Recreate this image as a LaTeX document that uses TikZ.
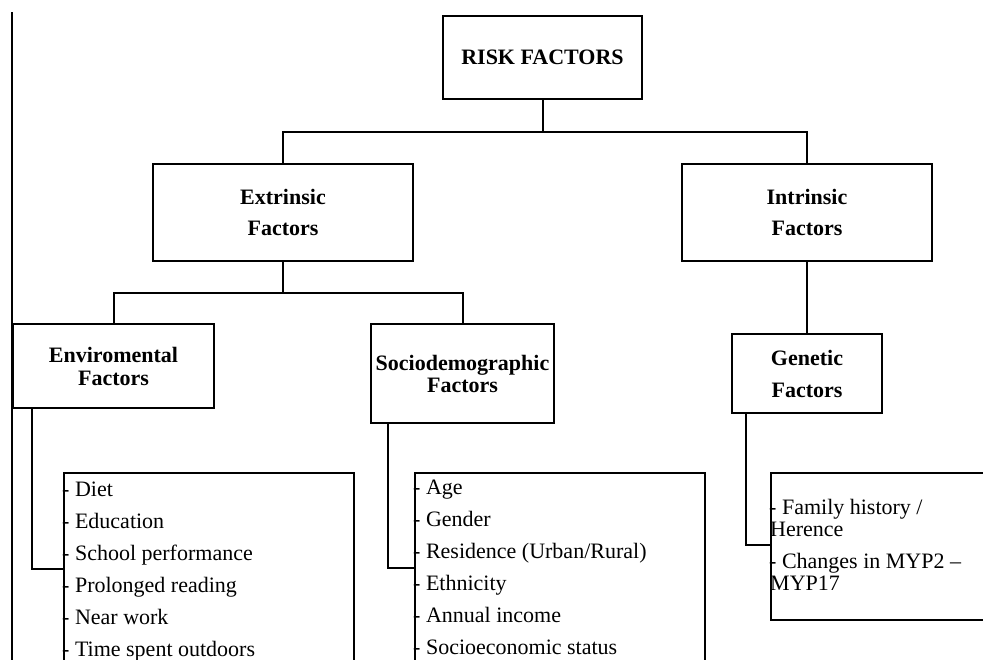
\documentclass[tikz,border=0pt]{standalone}
\usepackage{fontspec}
\setmainfont{Liberation Serif}
\begin{document}
\begin{tikzpicture}[x=1pt,y=-1pt,
  box/.style={draw,line width=2pt,inner sep=0pt,align=center},
  lbl/.style={font=\bfseries\fontsize{22pt}{#1}\selectfont},
  listbox/.style={draw,line width=2pt,anchor=north west,inner sep=0pt},
  item/.style={anchor=base west,inner sep=0pt,font=\fontsize{22pt}{22pt}\selectfont},
  conn/.style={line width=2pt}]
\useasboundingbox (0,0) rectangle (983,659);
\clip (0,0) rectangle (983,659);

% left margin rule
\coordinate (lt) at (12,12);
\coordinate (lb) at (12,665);
\draw[line width=1.3pt] (lt) -- (lb);

% main boxes
\node[box,lbl=31pt,minimum width=199pt,minimum height=83pt] (risk) at (542.5,57.5) {RISK FACTORS};
\node[box,lbl=31pt,minimum width=260pt,minimum height=97pt] (ext) at (283,212.5) {Extrinsic\\Factors};
\node[box,lbl=31pt,minimum width=250pt,minimum height=97pt] (int) at (807,212.5) {Intrinsic\\Factors};
\node[box,lbl=23pt,minimum width=201pt,minimum height=84pt] (env) at (113.5,366) {Enviromental\\Factors};
\node[box,lbl=22pt,minimum width=183pt,minimum height=99pt] (soc) at (462.5,373.5) {Sociodemographic\\Factors};
\node[box,lbl=32pt,minimum width=150pt,minimum height=79pt] (gen) at (807,373.5) {Genetic\\Factors};

% list boxes
\node[listbox,minimum width=290pt,minimum height=240pt] (envlist) at (63,472) {};
\node[listbox,minimum width=290pt,minimum height=240pt] (soclist) at (414,472) {};
\node[listbox,minimum width=230pt,minimum height=147pt] (genlist) at (770,472) {};

% list items
\node[item] (e1) at (62,496) {- Diet};
\node[item] (e2) at (62,528) {- Education};
\node[item] (e3) at (62,560) {- School performance};
\node[item] (e4) at (62,592) {- Prolonged reading};
\node[item] (e5) at (62,624) {- Near work};
\node[item] (e6) at (62,656) {- Time spent outdoors};

\node[item] (s1) at (413,494) {- Age};
\node[item] (s2) at (413,526) {- Gender};
\node[item] (s3) at (413,558) {- Residence (Urban/Rural)};
\node[item] (s4) at (413,590) {- Ethnicity};
\node[item] (s5) at (413,622) {- Annual income};
\node[item] (s6) at (413,654) {- Socioeconomic status};

\node[item] (g1) at (769,514) {- Family history /};
\node[item] (g2) at (770,536) {Herence};
\node[item] (g3) at (769,568) {- Changes in MYP2 –};
\node[item] (g4) at (770,590) {MYP17};

% connectors
\coordinate (j1) at (542.5,132);
\coordinate (j2) at (283,293);
\draw[conn] (risk.south) -- (j1);
\draw[conn] (ext.north) -- (ext.north |- j1) -- (int.north |- j1) -- (int.north);
\draw[conn] (ext.south) -- (j2);
\draw[conn] (env.north) -- (env.north |- j2) -- (soc.north |- j2) -- (soc.north);
\draw[conn] (int.south) -- (gen.north);

\coordinate (ej) at (63,569);
\coordinate (sj) at (414,568);
\coordinate (gj) at (770,545);
\draw[conn] ([xshift=20pt]env.south west) |- (ej);
\draw[conn] ([xshift=18pt]soc.south west) |- (sj);
\draw[conn] ([xshift=15pt]gen.south west) |- (gj);
\end{tikzpicture}
\end{document}
